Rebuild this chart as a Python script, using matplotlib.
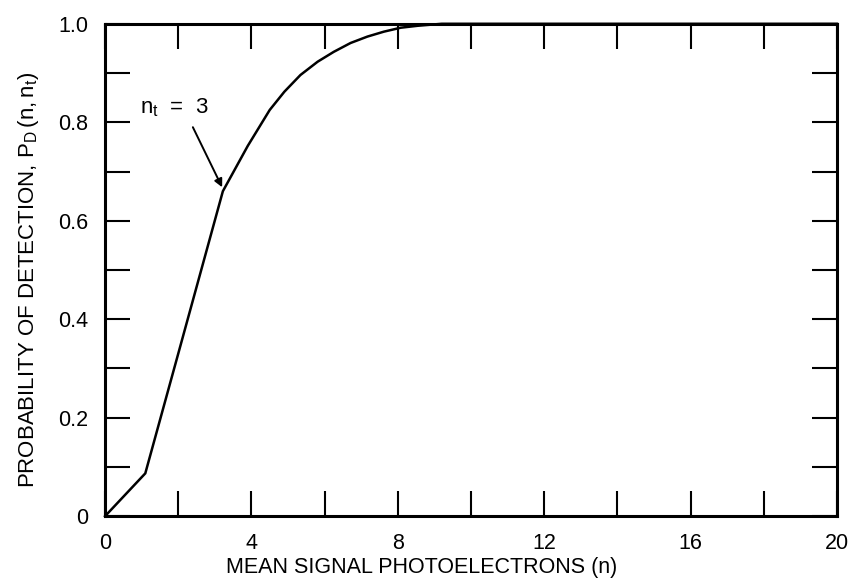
import matplotlib
matplotlib.use("Agg")
import matplotlib.pyplot as plt
from matplotlib.ticker import FixedLocator, FuncFormatter

plt.rcParams['font.family'] = ['Liberation Sans', 'DejaVu Sans']
plt.rcParams['mathtext.default'] = 'regular'

# detection probability vs mean signal photoelectrons, threshold n_t = 3
mean_n = [0, 1.1, 2.0, 3.22, 3.9, 4.5, 4.9, 5.34, 5.81, 6.25, 6.71,
          7.17, 7.62, 8.08, 8.55, 9.2, 10, 12, 14, 16, 18, 20]
p_detect = [0, 0.087, 0.33, 0.66, 0.752, 0.825, 0.862, 0.896, 0.923,
            0.943, 0.961, 0.974, 0.984, 0.992, 0.996, 1.0, 1.0, 1.0, 1.0,
            1.0, 1.0, 1.0]

x_ticks = [0, 2, 4, 6, 8, 10, 12, 14, 16, 18, 20]
y_ticks = [0, 0.1, 0.2, 0.3, 0.4, 0.5, 0.6, 0.7, 0.8, 0.9, 1.0]

fig = plt.figure(figsize=(8.54, 5.8), dpi=100)
ax = fig.add_axes([0.123, 0.110, 0.857, 0.849])

ax.plot(mean_n, p_detect, color='black', lw=1.8, solid_joinstyle='miter',
        clip_on=False)

ax.set_xlim(0, 20)
ax.set_ylim(0, 1.0)

ax.xaxis.set_major_locator(FixedLocator(x_ticks))
ax.yaxis.set_major_locator(FixedLocator(y_ticks))
ax.xaxis.set_major_formatter(
    FuncFormatter(lambda v, pos: f"{v:.0f}" if round(v) % 4 == 0 else ""))
ax.yaxis.set_major_formatter(
    FuncFormatter(lambda v, pos: ("0" if v == 0 else f"{v:.1f}")
                  if round(v * 10) % 2 == 0 else ""))

ax.tick_params(direction='in', length=18, width=1.5, top=True, right=True,
               labelsize=15.5)
ax.tick_params(axis='x', pad=12)
ax.tick_params(axis='y', pad=12)
for sp in ax.spines.values():
    sp.set_linewidth(2.2)

ax.set_xlabel("MEAN SIGNAL PHOTOELECTRONS (n)", fontsize=15.5, labelpad=3)
ax.xaxis.set_label_coords(0.433, -0.083)
ax.set_ylabel("PROBABILITY OF DETECTION, $P_D\\,(n,n_t)$", fontsize=16)
ax.yaxis.set_label_coords(-0.088, 0.48)

ax.text(0.95, 0.83, "$n_t$  =  3", fontsize=16, va='center', ha='left')
ax.annotate("", xy=(3.2, 0.668), xytext=(2.4, 0.79),
            arrowprops=dict(arrowstyle='-|>', color='black', lw=1.4,
                            mutation_scale=12, shrinkA=0, shrinkB=0))

fig.savefig("out.png", dpi=100)
